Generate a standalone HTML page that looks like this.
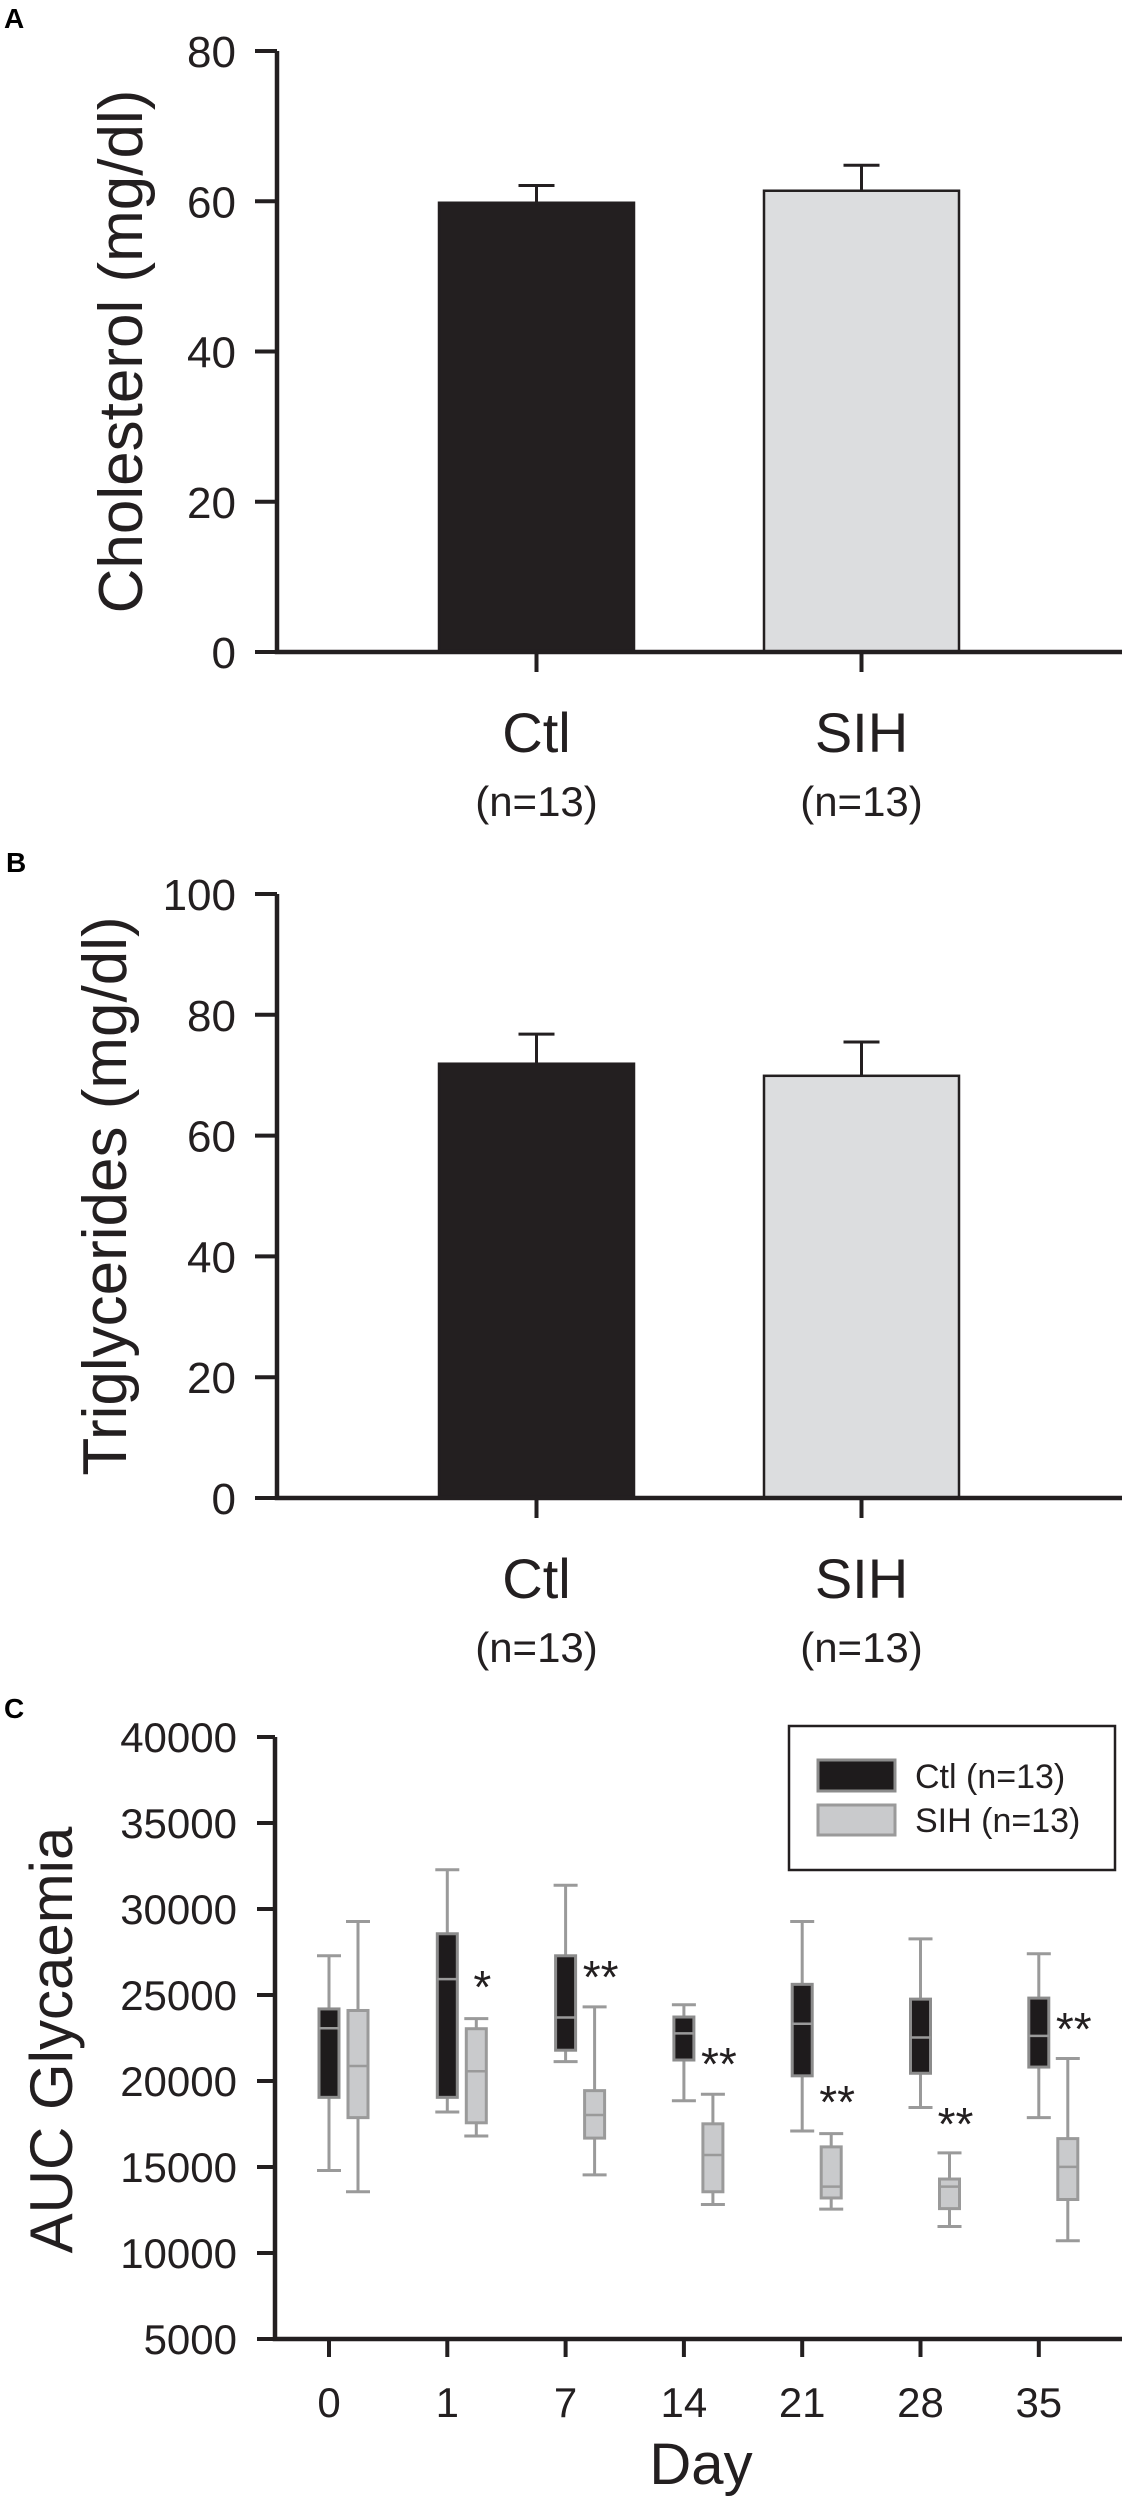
<!DOCTYPE html>
<html><head><meta charset="utf-8"><style>
html,body{margin:0;padding:0;background:#fff;}
svg{display:block;font-family:"Liberation Sans",Arial,sans-serif;}
</style></head><body>
<svg id="fig" width="1126" height="2500" viewBox="0 0 1126 2500" xmlns="http://www.w3.org/2000/svg"></svg>
<script>
// ---- Panel A / B data ----
const barCategories = ["Ctl", "SIH"];
const barNLabels = ["(n=13)", "(n=13)"];
const cholMeans = [59.8, 61.4];
const cholErr = [62.1, 64.8];
const cholTicks = [0, 20, 40, 60, 80];
const trigMeans = [71.9, 69.9];
const trigErr = [76.8, 75.5];
const trigTicks = [0, 20, 40, 60, 80, 100];
// ---- Panel C data ----
const days = ["0", "1", "7", "14", "21", "28", "35"];
const ctlWhiskLow = [14800, 18200, 21130, 18850, 17090, 18460, 17870];
const ctlQ1 = [19050, 19050, 21790, 21220, 20300, 20450, 20810];
const ctlMedian = [23070, 25920, 23690, 22770, 23330, 22530, 22620];
const ctlQ3 = [24190, 28560, 27280, 23720, 25620, 24760, 24820];
const ctlWhiskHigh = [27280, 32280, 31380, 24430, 29270, 28260, 27400];
const sihWhiskLow = [13560, 16800, 14540, 12820, 12550, 11540, 10710];
const sihQ1 = [17870, 17570, 16680, 13560, 13200, 12580, 13110];
const sihMedian = [20870, 20570, 18020, 15700, 13860, 13860, 15010];
const sihQ3 = [24100, 23040, 19440, 17510, 16170, 14300, 16650];
const sihWhiskHigh = [29270, 23630, 24310, 19230, 16940, 15820, 21310];
const starLabels = ["", "*", "**", "**", "**", "**", "**"];
const starValues = [0, 25990, 26570, 21510, 19300, 18020, 23550];
const aucTicks = [5000, 10000, 15000, 20000, 25000, 30000, 35000, 40000];

const NS = "http://www.w3.org/2000/svg";
const svg = document.getElementById("fig");
function mk(tag, attrs, parent, text) {
  const e = document.createElementNS(NS, tag);
  for (const k in attrs) e.setAttribute(k, attrs[k]);
  if (text !== undefined) e.textContent = text;
  (parent || svg).appendChild(e);
  return e;
}

// ---- bar panels ----
function barPanel(cfg) {
  const g = mk("g", {});
  
  
  const y = v => cfg.y0 - v * (cfg.y0 - cfg.yTop) / cfg.max;
  const lab = mk("text", {x: cfg.lx, y: cfg.ly, "font-size": 28, "font-weight": "bold"}, g, cfg.letter);
  
  
  const barX = [439, 764], barW = 195;
  for (let i = 0; i < barCategories.length; i++) {
    const cx = barX[i] + barW / 2;
    const eb = mk("path", {d: `M${cx},${y(cfg.means[i])} V${y(cfg.err[i])} M${cx-18},${y(cfg.err[i])} H${cx+18}`, stroke: "#231f20", "stroke-width": 3, fill: "none"}, g);
    
    
    const r = mk("rect", {x: barX[i], y: y(cfg.means[i]), width: barW, height: cfg.y0 - y(cfg.means[i]), fill: i === 0 ? "#231f20" : "#dcdddf", stroke: "#231f20", "stroke-width": 2.5}, g);
    
    
    const tk = mk("line", {x1: cx, x2: cx, y1: cfg.y0, y2: cfg.y0 + 20, stroke: "#231f20", "stroke-width": 4}, g);
    
    
    const t1 = mk("text", {x: cx, y: cfg.y0 + 100, "font-size": 56, "text-anchor": "middle", fill: "#231f20"}, g, barCategories[i]);
    
    
    const t2 = mk("text", {x: cx, y: cfg.y0 + 164, "font-size": 42, "text-anchor": "middle", fill: "#231f20"}, g, barNLabels[i]);
    
    
  }
  const ax = mk("path", {d: `M277,${cfg.yTop} V${cfg.y0} H1122`, stroke: "#231f20", "stroke-width": 4.5, fill: "none"}, g);
  
  
  cfg.ticks.forEach(v => {
    const t = mk("line", {x1: 255, x2: 277, y1: y(v), y2: y(v), stroke: "#231f20", "stroke-width": 4}, g);
    
    
    const tl = mk("text", {x: 236, y: y(v) + 16, "font-size": 44, "text-anchor": "end", fill: "#231f20"}, g, String(v));
    
    
  });
  const tt = mk("text", {transform: `translate(${cfg.tx},${(cfg.yTop + cfg.y0) / 2}) rotate(-90)`, "font-size": 62, "text-anchor": "middle", fill: "#231f20"}, g, cfg.title);
  
  
}
barPanel({name: "cholesterol-chart", letter: "A", lx: 4, ly: 28, y0: 652, yTop: 51, max: 80, means: cholMeans, err: cholErr, ticks: cholTicks, title: "Cholesterol (mg/dl)", tx: 142});
barPanel({name: "triglycerides-chart", letter: "B", lx: 6, ly: 872, y0: 1498, yTop: 894, max: 100, means: trigMeans, err: trigErr, ticks: trigTicks, title: "Triglycerides (mg/dl)", tx: 126});

// ---- Panel C box plot ----
const gc = mk("g", {});


const yC = v => 2339 - (v - 5000) * 602 / 35000;
const xC = i => 329 + i * 118.3;
const lc = mk("text", {x: 4, y: 1718, "font-size": 28, "font-weight": "bold"}, gc, "C");



function box(cx, lo, q1, med, q3, hi, fill, stroke, name) {
  const w = mk("path", {d: `M${cx},${yC(hi)} V${yC(q3)} M${cx},${yC(q1)} V${yC(lo)} M${cx-12},${yC(hi)} H${cx+12} M${cx-12},${yC(lo)} H${cx+12}`, stroke: "#9a9a9a", "stroke-width": 3, fill: "none"}, gc);
  
  
  const r = mk("rect", {x: cx - 10, y: yC(q3), width: 20, height: yC(q1) - yC(q3), fill: fill, stroke: stroke, "stroke-width": 3}, gc);
  
  
  const m = mk("line", {x1: cx - 10, x2: cx + 10, y1: yC(med), y2: yC(med), stroke: "#9a9a9a", "stroke-width": 2.5}, gc);
  
  
}
days.forEach((d, i) => {
  box(xC(i), ctlWhiskLow[i], ctlQ1[i], ctlMedian[i], ctlQ3[i], ctlWhiskHigh[i], "#1e1b1c", "#8c8c8c", "ctl-day-" + d);
  box(xC(i) + 29, sihWhiskLow[i], sihQ1[i], sihMedian[i], sihQ3[i], sihWhiskHigh[i], "#c9cacc", "#9a9a9a", "sih-day-" + d);
  if (starLabels[i]) {
    const s = mk("text", {x: xC(i) + 35, y: yC(starValues[i]) + 25, "font-size": 46, "text-anchor": "middle", fill: "#231f20"}, gc, starLabels[i]);
    
    
  }
  const tk = mk("line", {x1: xC(i), x2: xC(i), y1: 2339, y2: 2357, stroke: "#231f20", "stroke-width": 4}, gc);
  
  
  const tl = mk("text", {x: xC(i), y: 2417, "font-size": 42, "text-anchor": "middle", fill: "#231f20"}, gc, d);
  
  
});
const axc = mk("path", {d: `M275,1737 V2339 H1122`, stroke: "#231f20", "stroke-width": 4.5, fill: "none"}, gc);


aucTicks.forEach(v => {
  const t = mk("line", {x1: 257, x2: 275, y1: yC(v), y2: yC(v), stroke: "#231f20", "stroke-width": 4}, gc);
  
  
  const tl = mk("text", {x: 237, y: yC(v) + 15, "font-size": 42, "text-anchor": "end", fill: "#231f20"}, gc, String(v));
  
  
});
const yt = mk("text", {transform: "translate(72,2040) rotate(-90)", "font-size": 60, "text-anchor": "middle", fill: "#231f20"}, gc, "AUC Glycaemia");


const xt = mk("text", {x: 701, y: 2484, "font-size": 58, "text-anchor": "middle", fill: "#231f20"}, gc, "Day");



// legend
const lg = mk("g", {}, gc);


mk("rect", {x: 789, y: 1726, width: 326, height: 144, fill: "#fff", stroke: "#231f20", "stroke-width": 2.5}, lg);
const le1 = mk("rect", {x: 818, y: 1760, width: 77, height: 31, fill: "#1e1b1c", stroke: "#8c8c8c", "stroke-width": 3}, lg);


const le2 = mk("rect", {x: 818, y: 1805, width: 77, height: 30, fill: "#c9cacc", stroke: "#9a9a9a", "stroke-width": 3}, lg);


const lt1 = mk("text", {x: 915, y: 1788, "font-size": 34, fill: "#231f20"}, lg, "Ctl (n=13)");


const lt2 = mk("text", {x: 915, y: 1832, "font-size": 34, fill: "#231f20"}, lg, "SIH (n=13)");


</script>
</body></html>
